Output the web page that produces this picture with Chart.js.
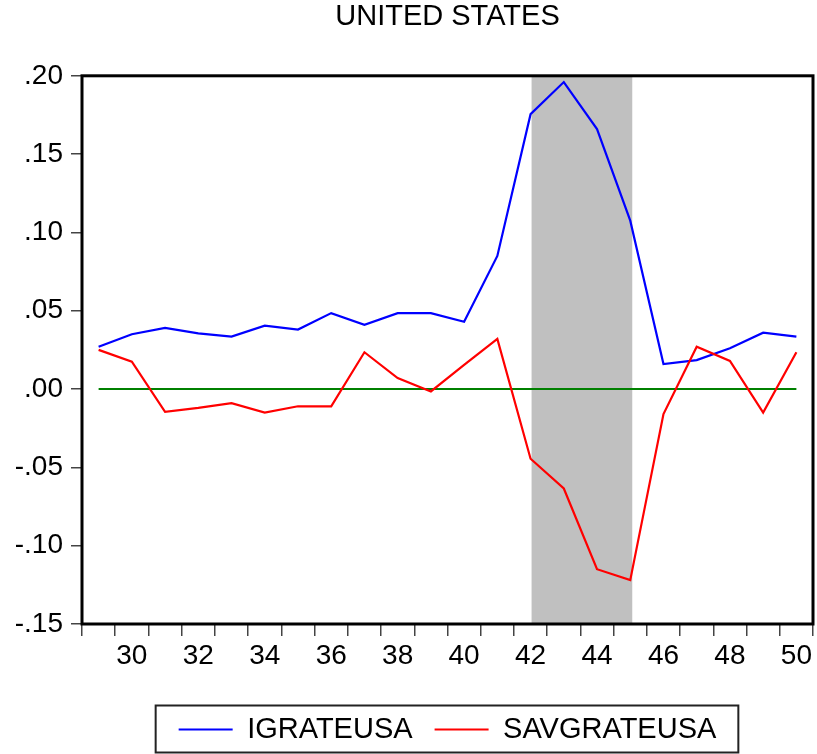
<!DOCTYPE html>
<html lang="en">
<head>
    <meta charset="UTF-8">
    <title>United States</title>
    <script src="https://cdn.jsdelivr.net/npm/chart.js"></script>
    <style>
        html, body { margin: 0; padding: 0; background: #fff; }
        #wrap { width: 817px; height: 754px; }
    </style>
</head>
<body>
    <div id="wrap"><canvas id="usChart"></canvas></div>

    <script>
    // annual data, 1929-1950
    const years = ['1929', '1930', '1931', '1932', '1933', '1934', '1935', '1936', '1937', '1938', '1939',
                   '1940', '1941', '1942', '1943', '1944', '1945', '1946', '1947', '1948', '1949', '1950'];

    const igrateUsa = [0.027, 0.035, 0.039, 0.0355, 0.0335, 0.0405, 0.038, 0.0485, 0.041, 0.0485, 0.0485,
                       0.043, 0.085, 0.1755, 0.196, 0.166, 0.1075, 0.016, 0.0185, 0.026, 0.036, 0.0335];

    const savgrateUsa = [0.025, 0.0175, -0.0145, -0.012, -0.009, -0.015, -0.011, -0.011, 0.0235, 0.007, -0.0015,
                         0.0155, 0.032, -0.0445, -0.0635, -0.115, -0.122, -0.016, 0.027, 0.018, -0.015, 0.0235];

    const zeroLine = [0, 0, 0, 0, 0, 0, 0, 0, 0, 0, 0, 0, 0, 0, 0, 0, 0, 0, 0, 0, 0, 0];

    // shaded war period
    const shadeFrom = '1942';
    const shadeTo = '1945';

    const FONT = '"Liberation Sans", Arial, sans-serif';

    const shadePlugin = {
        id: 'shade',
        beforeDatasetsDraw(chart) {
            const { ctx, chartArea, scales } = chart;
            const x1 = scales.x.getPixelForValue(years.indexOf(shadeFrom)) + 1;
            const x2 = scales.x.getPixelForValue(years.indexOf(shadeTo)) + 2;
            ctx.save();
            ctx.fillStyle = '#c0c0c0';
            ctx.fillRect(x1, chartArea.top, x2 - x1, chartArea.bottom - chartArea.top);
            ctx.restore();
        }
    };

    const framePlugin = {
        id: 'frame',
        afterDatasetsDraw(chart) {
            const { ctx, chartArea } = chart;
            ctx.save();
            ctx.strokeStyle = '#000';
            ctx.lineWidth = 3;
            ctx.strokeRect(chartArea.left, chartArea.top, chartArea.right - chartArea.left, chartArea.bottom - chartArea.top);
            ctx.restore();
        },
        afterDraw(chart) {
            // box around the legend
            const boxes = chart.legend.legendHitBoxes;
            if (!boxes || !boxes.length) return;
            const first = boxes[0];
            const last = boxes[boxes.length - 1];
            const cy = first.top + first.height / 2;
            const left = first.left - 23;
            const right = last.left + last.width + 22;
            const ctx = chart.ctx;
            ctx.save();
            ctx.strokeStyle = '#222';
            ctx.lineWidth = 2;
            ctx.strokeRect(left, cy - 24, right - left, 47);
            ctx.restore();
        }
    };

    new Chart(document.getElementById('usChart'), {
        type: 'line',
        data: {
            labels: years,
            datasets: [
                { label: 'IGRATEUSA', data: igrateUsa, borderColor: '#0000ff', backgroundColor: '#0000ff', borderWidth: 2.2, order: 2 },
                { label: 'SAVGRATEUSA', data: savgrateUsa, borderColor: '#ff0000', backgroundColor: '#ff0000', borderWidth: 2.2, order: 1 },
                { label: 'zero', data: zeroLine, borderColor: '#008000', backgroundColor: '#008000', borderWidth: 2, order: 3 }
            ]
        },
        options: {
            responsive: true,
            maintainAspectRatio: false,
            animation: false,
            elements: { point: { radius: 0 }, line: { tension: 0 } },
            layout: { padding: { left: 0, right: 4, top: 0, bottom: 0 } },
            plugins: {
                title: {
                    display: true,
                    text: 'UNITED STATES',
                    color: '#000',
                    fullSize: false,
                    font: { family: FONT, size: 29, weight: 'normal' },
                    padding: { top: 0, bottom: 41 }
                },
                legend: {
                    position: 'bottom',
                    fullSize: false,
                    labels: {
                        color: '#000',
                        font: { family: FONT, size: 29 },
                        usePointStyle: true,
                        pointStyle: 'line',
                        pointStyleWidth: 54,
                        padding: 22,
                        sort: (a, b) => a.datasetIndex - b.datasetIndex,
                        filter: item => item.text !== 'zero'
                    }
                },
                tooltip: { enabled: false }
            },
            scales: {
                x: {
                    type: 'category',
                    offset: true,
                    border: { display: false },
                    grid: { offset: true, drawOnChartArea: false, tickLength: 12, color: '#444', lineWidth: 1.5 },
                    ticks: {
                        autoSkip: false,
                        maxRotation: 0,
                        color: '#000',
                        padding: 3,
                        font: { family: FONT, size: 28 },
                        callback: function (val) {
                            const yr = +this.getLabelForValue(val);
                            return yr % 2 === 0 ? String(yr).slice(2) : '';
                        }
                    },
                    afterFit: scale => { scale.height = 69; }
                },
                y: {
                    min: -0.15,
                    max: 0.20,
                    border: { display: false },
                    grid: { drawOnChartArea: false, tickLength: 11, color: '#444', lineWidth: 1.5 },
                    ticks: {
                        stepSize: 0.05,
                        color: '#000',
                        padding: 8,
                        font: { family: FONT, size: 28 },
                        callback: v => v.toFixed(2).replace('0.', '.')
                    },
                    afterFit: scale => { scale.width = 82; }
                }
            }
        },
        plugins: [shadePlugin, framePlugin]
    });
    </script>
</body>
</html>
